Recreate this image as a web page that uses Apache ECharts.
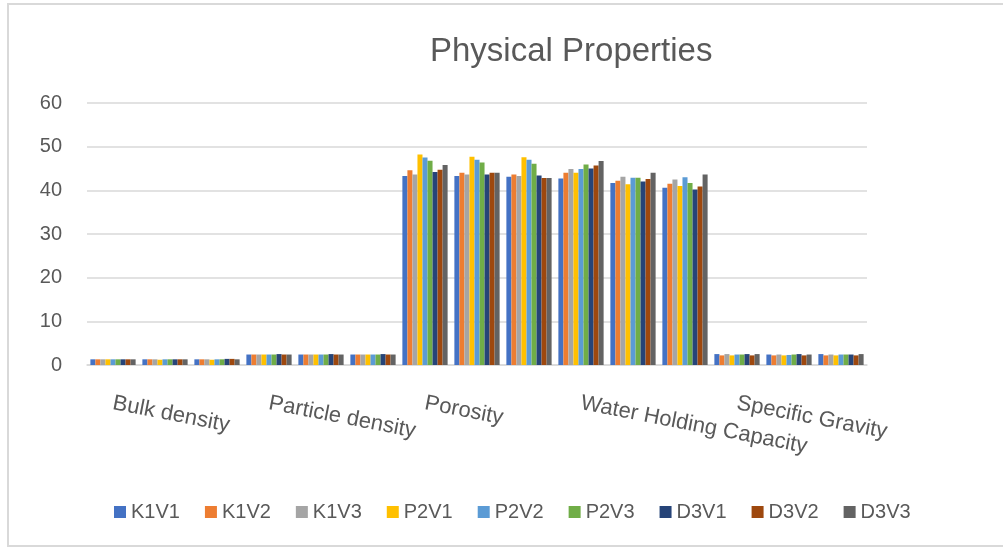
<!DOCTYPE html>
<html>
<head>
<meta charset="utf-8">
<script src="https://cdn.jsdelivr.net/npm/echarts@6/dist/echarts.min.js"></script>
<style>
  body { margin: 0; background: #fff; }
  #main { width: 1003px; height: 547px; }
</style>
</head>
<body>
<div id="main"></div>
<script>
// 15 groups, label only on the first of every three
const categories = [
  'Bulk density', '', '',
  'Particle density', '', '',
  'Porosity', '', '',
  'Water Holding Capacity', '', '',
  'Specific Gravity', '', ''
];
const seriesNames = ['K1V1', 'K1V2', 'K1V3', 'P2V1', 'P2V2', 'P2V3', 'D3V1', 'D3V2', 'D3V3'];
const colors = ['#4472C4', '#ED7D31', '#A5A5A5', '#FFC000', '#5B9BD5', '#70AD47', '#264478', '#9E480E', '#636363'];
const yTicks = [0, 10, 20, 30, 40, 50, 60];

const K1V1 = [1.3, 1.3, 1.3, 2.4, 2.4, 2.4, 43.3, 43.3, 43.1, 42.7, 41.7, 40.6, 2.5, 2.4, 2.5];
const K1V2 = [1.3, 1.3, 1.3, 2.4, 2.4, 2.4, 44.6, 44.0, 43.6, 44.0, 42.2, 41.5, 2.2, 2.2, 2.2];
const K1V3 = [1.3, 1.3, 1.3, 2.4, 2.4, 2.4, 43.6, 43.6, 43.3, 44.9, 43.1, 42.5, 2.5, 2.4, 2.4];
const P2V1 = [1.3, 1.2, 1.2, 2.4, 2.4, 2.4, 48.2, 47.7, 47.6, 44.0, 41.4, 41.0, 2.2, 2.2, 2.2];
const P2V2 = [1.3, 1.3, 1.3, 2.4, 2.4, 2.4, 47.5, 47.0, 47.0, 44.9, 42.9, 43.0, 2.4, 2.3, 2.4];
const P2V3 = [1.3, 1.3, 1.3, 2.4, 2.4, 2.4, 46.8, 46.4, 46.1, 45.9, 42.9, 41.7, 2.4, 2.4, 2.4];
const D3V1 = [1.3, 1.3, 1.4, 2.5, 2.5, 2.5, 44.2, 43.6, 43.4, 45.0, 42.0, 40.2, 2.5, 2.5, 2.4];
const D3V2 = [1.3, 1.3, 1.4, 2.4, 2.4, 2.4, 44.7, 44.0, 42.8, 45.7, 42.6, 40.9, 2.2, 2.2, 2.2];
const D3V3 = [1.3, 1.3, 1.3, 2.4, 2.4, 2.4, 45.8, 44.0, 42.8, 46.7, 44.0, 43.6, 2.5, 2.4, 2.5];

const seriesData = [K1V1, K1V2, K1V3, P2V1, P2V2, P2V3, D3V1, D3V2, D3V3];

const font = "'Liberation Sans', Arial, sans-serif";
const textColor = '#595959';

var myChart = echarts.init(document.getElementById('main'));

let option = {
  animation: false,
  color: colors,
  title: {
    text: 'Physical Properties',
    left: 425,
    top: 30,
    textStyle: { fontFamily: font, fontSize: 33, fontWeight: 'normal', color: textColor }
  },
  // chart area frame
  graphic: [{
    type: 'rect',
    shape: { x: 8, y: 4, width: 1000, height: 542 },
    style: { fill: 'none', stroke: '#d9d9d9', lineWidth: 2 },
    silent: true
  }],
  legend: {
    data: seriesNames,
    left: 109,
    top: 497,
    itemWidth: 12,
    itemHeight: 12,
    itemGap: 25,
    icon: 'rect',
    textStyle: { fontFamily: font, fontSize: 20, color: textColor }
  },
  grid: { left: 87, right: 136, top: 103, bottom: 182 },
  xAxis: {
    type: 'category',
    data: categories,
    axisLine: { lineStyle: { color: '#d9d9d9', width: 1.5 } },
    axisTick: { show: false },
    axisLabel: {
      interval: 0,
      rotate: -11,
      margin: 38,
      fontFamily: font,
      fontSize: 22,
      color: textColor
    }
  },
  yAxis: {
    type: 'value',
    min: yTicks[0],
    max: yTicks[yTicks.length - 1],
    interval: 10,
    axisLine: { show: false },
    axisTick: { show: false },
    splitLine: { lineStyle: { color: '#d9d9d9', width: 1.5 } },
    axisLabel: { margin: 25, fontFamily: font, fontSize: 20, color: textColor }
  },
  series: seriesNames.map(function (name, i) {
    return {
      name: name,
      type: 'bar',
      data: seriesData[i],
      barGap: '0%',
      barCategoryGap: '13%'
    };
  })
};

myChart.setOption(option);
</script>
</body>
</html>
